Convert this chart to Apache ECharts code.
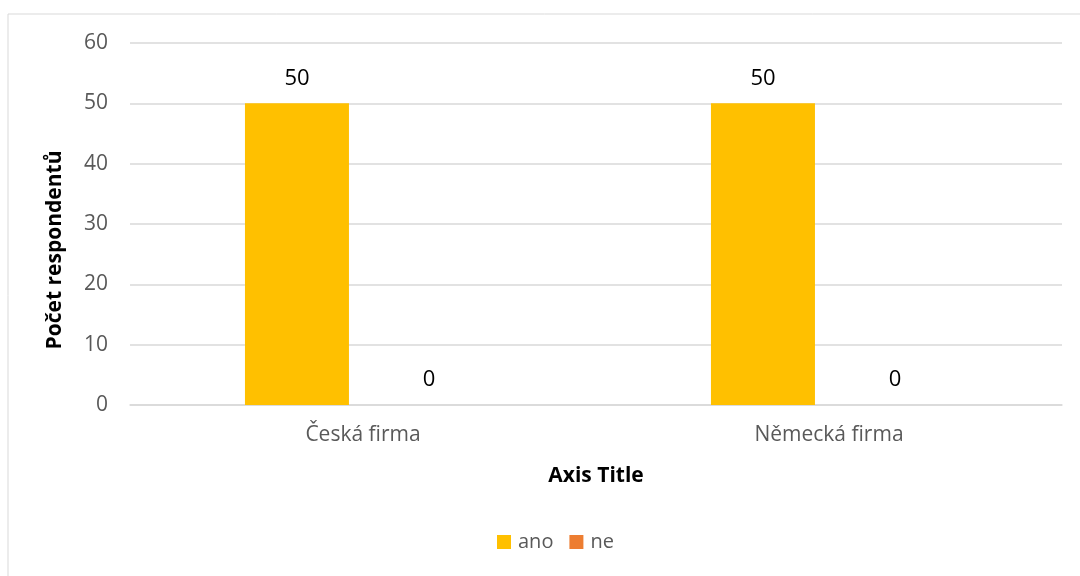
<!DOCTYPE html>
<html>
<head>
<meta charset="utf-8">
<script src="https://cdn.jsdelivr.net/npm/echarts@6/dist/echarts.min.js"></script>
<style>
html,body{margin:0;padding:0;background:#fff;}
#chart{width:1080px;height:576px;}
</style>
</head>
<body>
<div id="chart"></div>
<script>
var categories=['Česká firma','Německá firma'];
var seriesNames=['ano','ne'];
var anoValues=[50,50];
var neValues=[0,0];
var yTicks=[0,10,20,30,40,50,60];

var chart=echarts.init(document.getElementById('chart'));
var font='"Open Sans", sans-serif';
var option={
	animation:false,
	textStyle:{fontFamily:font},
	grid:{left:130,right:18,top:43,bottom:171},
	legend:{
		data:seriesNames,
		bottom:19,
		left:492,
		itemWidth:14,
		itemHeight:14,
		itemGap:16,
		icon:'rect',
		textStyle:{color:'#595959',fontSize:20,fontFamily:font,padding:[0,0,0,2]}
	},
	graphic:[
		{type:'rect',shape:{x:8,y:14,width:1090,height:600},style:{fill:'none',stroke:'#d9d9d9',lineWidth:1},silent:true},
		{type:'text',x:55,y:250,rotation:Math.PI/2,style:{text:'Počet respondentů',font:'bold 21px "Open Sans", sans-serif',fill:'#000',textAlign:'center',textVerticalAlign:'middle'}}
	],
	xAxis:{
		type:'category',
		data:categories,
		name:'Axis Title',
		nameLocation:'middle',
		nameGap:61,
		nameTextStyle:{fontWeight:'bold',fontSize:21,color:'#000'},
		axisLine:{lineStyle:{color:'#d9d9d9',width:1.5}},
		axisTick:{show:false},
		axisLabel:{color:'#595959',fontSize:21,margin:20}
	},
	yAxis:{
		type:'value',
		min:0,max:60,interval:10,
		axisLine:{show:false},
		axisTick:{show:false},
		splitLine:{lineStyle:{color:'#d9d9d9',width:1.5}},
		axisLabel:{color:'#595959',fontSize:21,margin:22}
	},
	series:[
		{name:'ano',type:'bar',data:anoValues,barWidth:104,barGap:'27%',itemStyle:{color:'#ffc000'},
			label:{show:true,position:'top',distance:14,color:'#000',fontSize:22}},
		{name:'ne',type:'bar',data:neValues,barWidth:104,itemStyle:{color:'#ed7d31'},
			label:{show:true,position:'top',distance:14,color:'#000',fontSize:22}}
	]
};
chart.setOption(option);
</script>
</body>
</html>
